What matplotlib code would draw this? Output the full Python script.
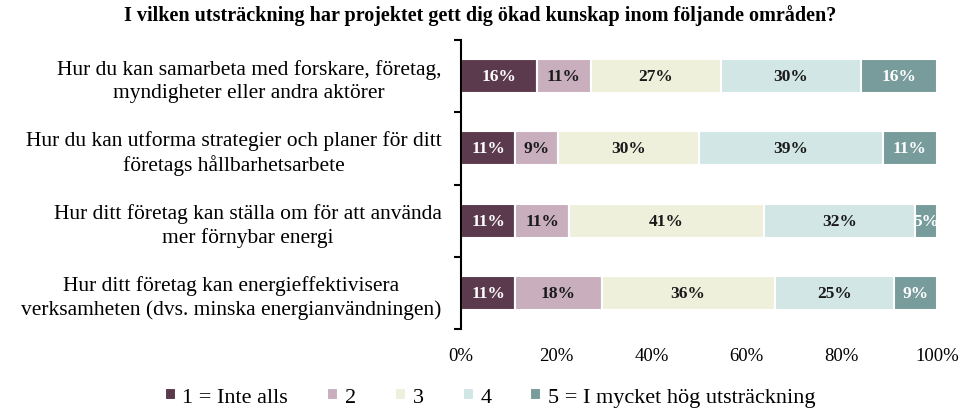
import matplotlib
matplotlib.use("Agg")
import matplotlib.pyplot as plt
import numpy as np

categories = [
    "Hur du kan samarbeta med forskare, företag,\nmyndigheter eller andra aktörer",
    "Hur du kan utforma strategier och planer för ditt\nföretags hållbarhetsarbete",
    "Hur ditt företag kan ställa om för att använda\nmer förnybar energi",
    "Hur ditt företag kan energieffektivisera\nverksamheten (dvs. minska energianvändningen)",
]
series_names = ["1 = Inte alls", "2", "3", "4", "5 = I mycket hög utsträckning"]
values = [
    [15.91, 11.36, 11.36, 11.36],   # 1 = Inte alls
    [11.36, 9.09, 11.36, 18.18],    # 2
    [27.27, 29.55, 40.91, 36.36],   # 3
    [29.55, 38.64, 31.82, 25.00],   # 4
    [15.91, 11.36, 4.55, 9.09],     # 5
]
colors = ["#5C3A4E", "#C9AFBE", "#EFF0DC", "#D3E6E6", "#779C9B"]
text_colors = ["white", "#1a1a1a", "#1a1a1a", "#1a1a1a", "white"]
title = "I vilken utsträckning har projektet gett dig ökad kunskap inom följande områden?"
xticks = [0, 20, 40, 60, 80, 100]

plt.rcParams['font.family'] = ['Liberation Serif', 'DejaVu Serif']

fig = plt.figure(figsize=(9.61, 4.14), dpi=100)
ax = fig.add_axes([461/961, 1-330/414, (937-461)/961, (330-41)/414])

y = np.arange(len(categories))
left = np.zeros(len(categories))
for i, (name, vals) in enumerate(zip(series_names, values)):
    vals = np.array(vals)
    ax.barh(y, vals, left=left, height=0.47, color=colors[i],
            edgecolor="white", linewidth=1.5, label=name)
    for yy, l, v in zip(y, left, vals):
        ax.text(l + v/2, yy, f"{v:.0f}%", ha="center", va="center",
                color=text_colors[i], fontsize=12.5, fontweight="bold")
    left += vals

ax.set_xlim(0, 100)
ax.set_ylim(len(categories)-0.5, -0.5)
ax.set_yticks(y)
ax.set_yticklabels(categories, fontsize=15.5, multialignment="center",
                   linespacing=1.25)
ax.tick_params(axis="y", which="major", length=0, pad=14)
ax.set_yticks(np.arange(-0.5, len(categories), 1.0), minor=True)
ax.tick_params(axis="y", which="minor", length=5, width=1.5, direction="out")
ax.set_xticks(xticks)
ax.set_xticklabels([f"{t}%" for t in xticks], fontsize=13.5)
ax.tick_params(axis="x", length=0, pad=13)
for s in ["top", "right", "bottom"]:
    ax.spines[s].set_visible(False)
ax.spines["left"].set_linewidth(1.5)

fig.text(0.5, 0.962, title, ha="center", va="center", fontsize=14.5, fontweight="bold")

fig.legend(loc="center", bbox_to_anchor=(0.51, 0.038), ncol=5, frameon=False,
           fontsize=16, handlelength=0.5, handleheight=0.5, handletextpad=0.3,
           columnspacing=1.75)

fig.savefig("out.png", dpi=100)
